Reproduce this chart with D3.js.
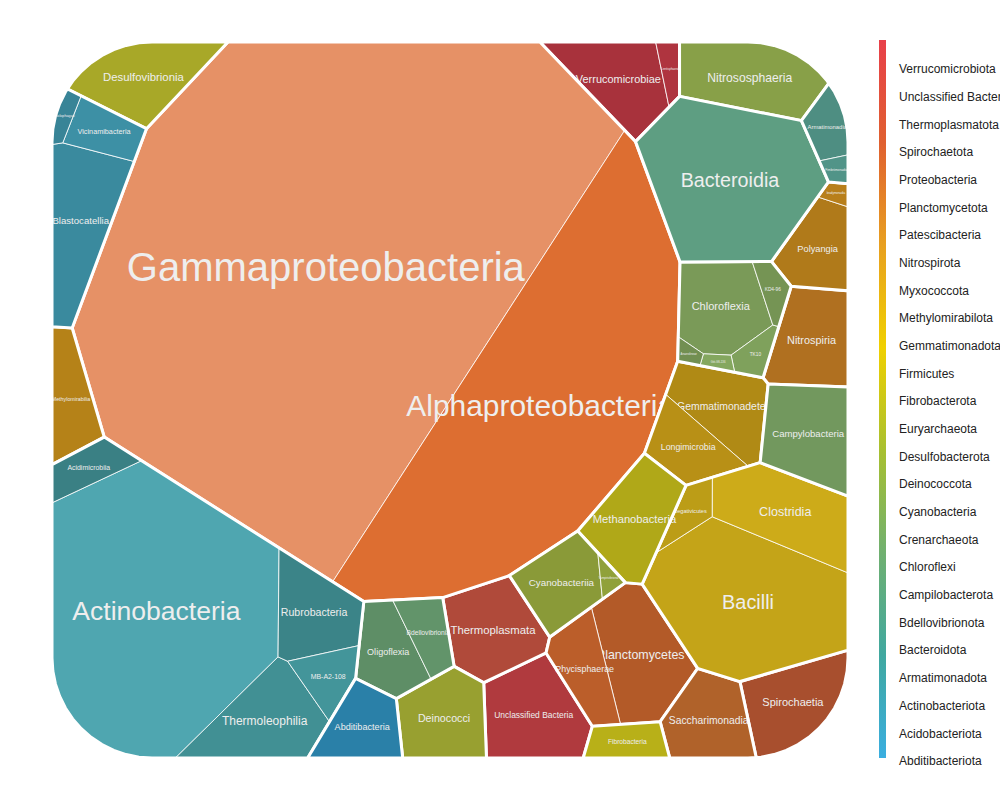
<!DOCTYPE html>
<html><head><meta charset="utf-8">
<script src="https://cdn.jsdelivr.net/npm/d3@7"></script>
<style>body{margin:0;background:#fff;font-family:"Liberation Sans",Arial,sans-serif}</style>
</head><body><svg id="chart" width="1000" height="800"></svg>
<script>
// phyla in legend order (top to bottom)
var phyla = ['Verrucomicrobiota','Unclassified Bacteria','Thermoplasmatota','Spirochaetota','Proteobacteria','Planctomycetota',
  'Patescibacteria','Nitrospirota','Myxococcota','Methylomirabilota','Gemmatimonadota','Firmicutes','Fibrobacterota',
  'Euryarchaeota','Desulfobacterota','Deinococcota','Cyanobacteria','Crenarchaeota','Chloroflexi','Campilobacterota',
  'Bdellovibrionota','Bacteroidota','Armatimonadota','Actinobacteriota','Acidobacteriota','Abditibacteriota'];
var phylumColors = ['#a8323c','#b03a3e','#b04a3a','#a84f2e','#d4692f','#b35a28','#b0622a','#b07020','#b07a1a','#b58218',
  '#b08a15','#c4a418','#b8b018','#b0a818','#a8a828','#98a030','#8a9a38','#88a048','#7a9a58','#72985e','#5e8e66',
  '#5e9e82','#4e8e82','#3e8a8e','#3a8a9e','#2a80a8'];
// classes: [phylum, class, abundance]
var classes = [
  ['Verrucomicrobiota','Verrucomicrobiae',8],['Verrucomicrobiota','Lentisphaeria',1.2],
  ['Unclassified Bacteria','Unclassified Bacteria',9],
  ['Thermoplasmatota','Thermoplasmata',8],
  ['Spirochaetota','Spirochaetia',8],
  ['Proteobacteria','Gammaproteobacteria',200],['Proteobacteria','Alphaproteobacteria',80],
  ['Planctomycetota','Planctomycetes',10],['Planctomycetota','Phycisphaerae',5],
  ['Patescibacteria','Saccharimonadia',7],
  ['Nitrospirota','Nitrospiria',8],
  ['Myxococcota','Polyangia',6],['Myxococcota','bradymonadia',0.6],
  ['Methylomirabilota','Methylomirabilia',4],
  ['Gemmatimonadota','Gemmatimonadetes',7],['Gemmatimonadota','Longimicrobia',5],
  ['Firmicutes','Bacilli',25],['Firmicutes','Clostridia',10],['Firmicutes','Negativicutes',2],
  ['Fibrobacterota','Fibrobacteria',3],
  ['Euryarchaeota','Methanobacteria',8],
  ['Desulfobacterota','Desulfovibrionia',6],
  ['Deinococcota','Deinococci',7],
  ['Cyanobacteria','Cyanobacteriia',6],['Cyanobacteria','Vampirivibrionia',0.6],
  ['Crenarchaeota','Nitrososphaeria',10],
  ['Chloroflexi','Chloroflexia',8],['Chloroflexi','TK10',1.5],['Chloroflexi','KD4-96',1.5],['Chloroflexi','Gitt-GS-136',0.5],['Chloroflexi','Anaerolineae',0.5],
  ['Campilobacterota','Campylobacteria',9],
  ['Bdellovibrionota','Oligoflexia',5],['Bdellovibrionota','Bdellovibrionia',3],
  ['Bacteroidota','Bacteroidia',25],
  ['Armatimonadota','Armatimonadia',3],['Armatimonadota','Fimbriimonadia',0.8],
  ['Actinobacteriota','Actinobacteria',55],['Actinobacteriota','Thermoleophilia',9],['Actinobacteriota','Rubrobacteria',7],
  ['Actinobacteriota','MB-A2-108',3],['Actinobacteriota','Acidimicrobiia',3],
  ['Acidobacteriota','Blastocatellia',9],['Acidobacteriota','Vicinamibacteria',3],['Acidobacteriota','Holophagae',0.8],
  ['Abditibacteriota','Abditibacteria',5]
];
var legendStops = ['#e8404a','#e06030','#e8a020','#f0d000','#a8c030','#70b070','#40a8a0','#3aaee0'];

var svg = d3.select('#chart');
var rnd = d3.randomLcg(0.37);

function roundRect(x0,y0,x1,y1,r){
  var pts=[], corners=[[x1-r,y0+r,-90],[x1-r,y1-r,0],[x0+r,y1-r,90],[x0+r,y0+r,180]];
  corners.forEach(function(c){ for(var k=0;k<=12;k++){ var a=(c[2]+k*90/12)*Math.PI/180; pts.push([c[0]+r*Math.cos(a),c[1]+r*Math.sin(a)]); } });
  return pts;
}
function clip(poly,a,b,c){ // keep a*x+b*y<=c
  var out=[]; for(var i=0;i<poly.length;i++){
    var p=poly[i], q=poly[(i+1)%poly.length];
    var fp=a*p[0]+b*p[1]-c, fq=a*q[0]+b*q[1]-c;
    if(fp<=0) out.push(p);
    if((fp<0&&fq>0)||(fp>0&&fq<0)){ var t=fp/(fp-fq); out.push([p[0]+t*(q[0]-p[0]),p[1]+t*(q[1]-p[1])]); }
  } return out;
}
function powerCells(sites,bound){
  return sites.map(function(s,i){
    var poly=bound.slice();
    for(var j=0;j<sites.length&&poly.length>2;j++){ if(j===i) continue; var t=sites[j];
      poly=clip(poly,2*(t.x-s.x),2*(t.y-s.y),(t.x*t.x+t.y*t.y)-(s.x*s.x+s.y*s.y)-t.w+s.w); }
    return poly.length>2?poly:null;
  });
}
function voronoiMap(values,bound,iters){
  if(values.length===1) return [bound];
  var total=d3.sum(values), A=Math.abs(d3.polygonArea(bound));
  var ext=[d3.min(bound,d=>d[0]),d3.min(bound,d=>d[1]),d3.max(bound,d=>d[0]),d3.max(bound,d=>d[1])];
  var sites=values.map(function(v){
    var p; do{ p=[ext[0]+rnd()*(ext[2]-ext[0]),ext[1]+rnd()*(ext[3]-ext[1])]; }while(!d3.polygonContains(bound,p));
    return {x:p[0],y:p[1],w:0,target:v/total*A};
  });
  var cells;
  for(var it=0;it<iters;it++){
    cells=powerCells(sites,bound);
    var damp=0.35;
    sites.forEach(function(s,i){
      var c=cells[i], area=c?Math.abs(d3.polygonArea(c)):0;
      if(c){ var ct=d3.polygonCentroid(c); s.x+=0.6*(ct[0]-s.x); s.y+=0.6*(ct[1]-s.y); }
      s.w+=damp*(s.target-area)/Math.PI;
    });
    var mw=d3.mean(sites,s=>s.w); sites.forEach(s=>{s.w-=mw;});
  }
  return powerCells(sites,bound);
}

var bound=roundRect(52,42,848,758,100);
var groups=phyla.map(function(p){ return {name:p,color:phylumColors[phyla.indexOf(p)],kids:classes.filter(c=>c[0]===p)}; });
var topCells=voronoiMap(groups.map(g=>d3.sum(g.kids,k=>k[2])),bound,400);
var line=d3.line();
var shades=[0,0.12,-0.12,0.22,-0.2];

groups.forEach(function(g,gi){
  var cell=topCells[gi]; if(!cell) return;
  var sub=voronoiMap(g.kids.map(k=>k[2]),cell,200);
  g.kids.forEach(function(k,ki){
    var c=sub[ki]; if(!c) return;
    var col=d3.color(g.color);
    if(k[1]==='Gammaproteobacteria') col=d3.color('#e69166');
    else if(k[1]==='Actinobacteria') col=d3.color('#4fa6b0');
    else col=shades[ki%5]>0?col.brighter(shades[ki%5]):col.darker(-shades[ki%5]);
    svg.append('path').attr('d',line(c)+'Z').attr('fill',col).attr('stroke','#fff').attr('stroke-width',0.8);
    var area=Math.abs(d3.polygonArea(c)), ct=d3.polygonCentroid(c);
    var w=d3.max(c,d=>d[0])-d3.min(c,d=>d[0]);
    var fs=Math.min(40,Math.sqrt(area)*0.13,w*0.9/(0.55*k[1].length));
    if(fs<2) return;
    svg.append('text').attr('x',ct[0]).attr('y',ct[1]).attr('text-anchor','middle').attr('dy','0.35em')
      .attr('font-size',fs).attr('fill','#eeeeee').text(k[1]);
  });
  svg.append('path').attr('d',line(cell)+'Z').attr('fill','none').attr('stroke','#fff').attr('stroke-width',3);
});

// legend
var grad=svg.append('defs').append('linearGradient').attr('id','lg').attr('x1',0).attr('x2',0).attr('y1',0).attr('y2',1);
legendStops.forEach((c,i)=>grad.append('stop').attr('offset',i/(legendStops.length-1)).attr('stop-color',c));
svg.append('rect').attr('x',879).attr('y',40).attr('width',7).attr('height',718).attr('fill','url(#lg)');
var ly=d3.scalePoint().domain(phyla).range([69,761]);
phyla.forEach(function(p){
  svg.append('text').attr('x',899).attr('y',ly(p)).attr('dy','0.35em').attr('font-size',12).attr('fill','#222').text(p);
});
</script></body></html>
